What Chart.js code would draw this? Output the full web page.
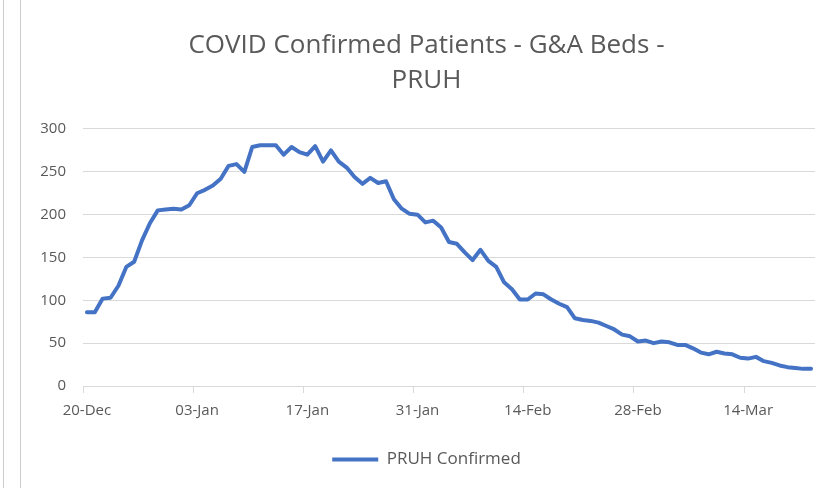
<html lang="en">
<head>
  <meta charset="UTF-8">
  <title>COVID Confirmed Patients - G&amp;A Beds - PRUH</title>
  <style>
    body { margin: 0; background: #fff; }
    #wrap { position: relative; width: 821px; height: 488px; }
    .edge { position: absolute; top: 0; width: 1px; height: 488px; background: #cdcdcd; }
  </style>
  <script src="https://cdn.jsdelivr.net/npm/chart.js"></script>
</head>
<body>
  <div id="wrap">
    <div class="edge" style="left:3px"></div>
    <div class="edge" style="left:20px"></div>
    <canvas id="chart"></canvas>
  </div>
  <script>
    // daily counts, 20-Dec to 22-Mar
    const startDate = [2020, 11, 20];
    const confirmed = [
      86, 86, 102, 103, 117, 139, 145, 170, 190, 205,
      206, 207, 206, 211, 225, 229, 234, 242, 257, 259,
      250, 279, 281, 281, 281, 270, 279, 273, 270, 280,
      262, 275, 262, 255, 244, 236, 243, 237, 239, 218,
      207, 201, 200, 191, 193, 185, 168, 166, 156, 147,
      159, 146, 139, 121, 113, 101, 101, 108, 107, 101,
      96, 92, 79, 77, 76, 74, 70, 66, 60, 58,
      52, 53, 50, 52, 51, 48, 48, 44, 39, 37,
      40, 38, 37, 33, 32, 34, 29, 27, 24, 22,
      21, 20, 20
    ];
    const tickLabels = ['20-Dec', '03-Jan', '17-Jan', '31-Jan', '14-Feb', '28-Feb', '14-Mar'];
    const yTicks = [0, 50, 100, 150, 200, 250, 300];

    const months = ['Jan','Feb','Mar','Apr','May','Jun','Jul','Aug','Sep','Oct','Nov','Dec'];
    const labels = confirmed.map((v, i) => {
      const d = new Date(Date.UTC(startDate[0], startDate[1], startDate[2] + i));
      return String(d.getUTCDate()).padStart(2, '0') + '-' + months[d.getUTCMonth()];
    });

    const grey = '#595959';
    const font = 'Open Sans';

    new Chart(document.getElementById('chart'), {
      type: 'line',
      data: {
        labels,
        datasets: [{
          label: 'PRUH Confirmed',
          data: confirmed,
          borderColor: '#4472C4',
          backgroundColor: '#4472C4',
          borderWidth: 4,
          borderCapStyle: 'round',
          borderJoinStyle: 'round',
          pointRadius: 0,
          tension: 0
        }]
      },
      options: {
        responsive: true,
        maintainAspectRatio: false,
        animation: false,
        layout: { padding: { left: 38, right: 6, top: 0, bottom: 10 } },
        plugins: {
          title: {
            display: true,
            text: ['COVID Confirmed Patients - G&A Beds -', 'PRUH'],
            color: grey,
            font: { family: font, size: 26, weight: 'normal', lineHeight: 1.346 },
            padding: { top: 28, bottom: 31 }
          },
          legend: {
            position: 'bottom',
            labels: {
              color: grey,
              font: { family: font, size: 17 },
              usePointStyle: true,
              pointStyle: 'line',
              pointStyleWidth: 46,
              boxHeight: 4
            }
          },
          tooltip: { enabled: false }
        },
        scales: {
          x: {
            offset: true,
            border: { color: '#d9d9d9' },
            grid: {
              offset: true,
              drawOnChartArea: false,
              tickLength: 7,
              color: ctx => (ctx.index < labels.length && tickLabels.includes(labels[ctx.index])) ? '#d9d9d9' : 'rgba(0,0,0,0)'
            },
            ticks: {
              autoSkip: false,
              maxRotation: 0,
              color: grey,
              font: { family: font, size: 15 },
              padding: 9,
              callback: function (value) {
                const l = this.getLabelForValue(value);
                return tickLabels.includes(l) ? l : '';
              }
            },
            afterFit: scale => { scale.height += 12; }
          },
          y: {
            min: yTicks[0],
            max: yTicks[yTicks.length - 1],
            border: { display: false },
            grid: { color: '#d9d9d9', drawTicks: false },
            ticks: {
              stepSize: 50,
              color: grey,
              font: { family: font, size: 15 },
              padding: 17
            },
            afterFit: scale => { scale.width = 45; }
          }
        }
      }
    });
  </script>
</body>
</html>
